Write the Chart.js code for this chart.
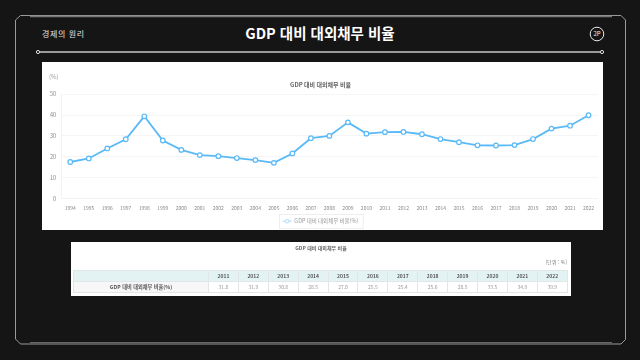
<!DOCTYPE html>
<html lang="ko">
<head>
<meta charset="utf-8">
<script src="https://cdn.jsdelivr.net/npm/chart.js@4"></script>
<style>
  html, body { margin: 0; padding: 0; background: #151515; }
  body { width: 640px; height: 360px; position: relative; overflow: hidden; font-family: "Noto Sans CJK KR", sans-serif; }
  .frame { position: absolute; left: 0; top: 0; }
  .section { position: absolute; left: 42px; top: 28px; font-size: 8px; line-height: 11px; letter-spacing: .6px; color: #e4e4e4; }
  .heading { position: absolute; left: 120px; width: 400px; top: 22px; text-align: center; font-size: 14.5px; line-height: 21px; font-weight: 700; color: #fff; }
  .page { position: absolute; left: 590px; top: 27px; width: 14px; height: 14px; line-height: 14px; text-align: center; font-size: 6px; color: #eee; }
  .panel { position: absolute; left: 42px; top: 62px; width: 561px; height: 168px; background: #fff; }
  .panel canvas { filter: blur(.5px); }
  .tablePanel { position: absolute; left: 71px; top: 242px; width: 500px; height: 54px; background: #fff; }
  .tableInner { position: absolute; inset: 0; filter: blur(.6px); }
  .tableTitle { position: absolute; left: 0; width: 500px; top: 2px; text-align: center; font-size: 5px; line-height: 8px; font-weight: 700; color: #666; }
  .unit { position: absolute; right: 4px; top: 16px; font-size: 5px; line-height: 8px; color: #777; }
  table { position: absolute; left: 2px; top: 28px; border-collapse: collapse; table-layout: fixed; width: 494.5px; font-size: 5px; }
  th, td { border: 1px solid #e2e6e6; padding: 0; height: 10px; line-height: 8px; text-align: center; }
  th { background: #e3f3f4; color: #555; font-weight: 700; }
  td { color: #999; }
  td.rowHead { background: #f7f7f7; color: #555; font-weight: 700; font-size: 5.2px; }
</style>
</head>
<body>
<svg class="frame" width="640" height="360" fill="none">
  <path d="M20.5 15.5H621L625.5 20V339.5L621 344H20.5L15.5 339V20Z" stroke="#9a9a9a" stroke-width="1"/>
  <path d="M30 16.5H612" stroke="#777" stroke-width="1.5"/>
  <path d="M30 342.5H612" stroke="#666" stroke-width="1"/>
  <path d="M38 52H602" stroke="#c8c8c8" stroke-width="1.4"/>
  <circle cx="38" cy="52" r="1.6" fill="#151515" stroke="#ddd"/>
  <circle cx="602" cy="52" r="1.6" fill="#151515" stroke="#ddd"/>
  <circle cx="597" cy="34" r="6.8" stroke="#e8e8e8"/>
</svg>
<div class="section">경제의 원리</div>
<div class="heading">GDP 대비 대외채무 비율</div>
<div class="page">2P</div>

<div class="panel"><canvas id="myChart" width="561" height="168"></canvas></div>

<div class="tablePanel">
  <div class="tableInner">
    <div class="tableTitle" id="tableTitle"></div>
    <div class="unit">[단위 : %]</div>
    <table id="ratioTable"></table>
  </div>
</div>

<script>
const chartTitle = "GDP 대비 대외채무 비율";
const seriesName = "GDP 대비 대외채무 비율(%)";
const years = ["1994","1995","1996","1997","1998","1999","2000","2001","2002","2003","2004","2005","2006","2007","2008","2009","2010","2011","2012","2013","2014","2015","2016","2017","2018","2019","2020","2021","2022"];
const ratios = [17.5,19.2,24.0,28.4,39.4,27.8,23.3,20.8,20.3,19.4,18.4,17.1,21.6,28.9,30.0,36.5,31.1,31.8,31.9,30.8,28.5,27.0,25.5,25.4,25.6,28.5,33.5,34.9,39.9];
const tableYears = ["2011","2012","2013","2014","2015","2016","2017","2018","2019","2020","2021","2022"];
const tableValues = ["31.8","31.9","30.8","28.5","27.0","25.5","25.4","25.6","28.5","33.5","34.9","39.9"];

// table under the chart
document.getElementById("tableTitle").textContent = chartTitle;
let rows = '<colgroup><col style="width:135px">' + tableYears.map(() => '<col style="width:29.9px">').join("") + "</colgroup>";
rows += "<tr><th></th>" + tableYears.map(y => "<th>" + y + "</th>").join("") + "</tr>";
rows += '<tr><td class="rowHead">' + seriesName + "</td>" + tableValues.map(v => "<td>" + v + "</td>").join("") + "</tr>";
document.getElementById("ratioTable").innerHTML = rows;

// "(%)" label, the box around the legend and its marker
const extras = {
  id: "extras",
  afterDraw(chart) {
    const c = chart.ctx, lg = chart.legend, hit = lg.legendHitBoxes[0];
    const midY = hit.top + hit.height / 2;
    c.save();
    c.fillStyle = "#999";
    c.font = "6px 'Noto Sans CJK KR'";
    c.fillText("(%)", 7, 15);
    c.strokeStyle = "#eeeeee";
    c.strokeRect(Math.round(hit.left - 4) + 0.5, Math.round(midY - 7) + 0.5, hit.width + 8, 14);
    c.strokeStyle = "#a9dcfb";
    c.lineWidth = 1;
    c.beginPath();
    c.moveTo(hit.left, midY);
    c.lineTo(hit.left + 9, midY);
    c.stroke();
    c.beginPath();
    c.arc(hit.left + 4.5, midY, 1.8, 0, Math.PI * 2);
    c.fillStyle = "#fff";
    c.fill();
    c.stroke();
    c.restore();
  }
};

new Chart(document.getElementById("myChart"), {
  type: "line",
  data: {
    labels: years,
    datasets: [{
      label: seriesName,
      data: ratios,
      borderColor: "#5ab9f7",
      borderWidth: 1.8,
      backgroundColor: "#ffffff",
      pointBackgroundColor: "#ffffff",
      pointBorderColor: "#5ab9f7",
      pointBorderWidth: 1.2,
      pointRadius: 2.3,
      tension: 0
    }]
  },
  options: {
    responsive: false,
    animation: false,
    layout: { padding: { left: 0, right: 4, top: 0, bottom: -4 } },
    plugins: {
      title: {
        display: true,
        text: chartTitle,
        color: "#666",
        font: { family: "Noto Sans CJK KR", size: 6, weight: "bold" },
        padding: { top: 19, bottom: 6 }
      },
      legend: {
        position: "bottom",
        labels: {
          color: "#999",
          font: { family: "Noto Sans CJK KR", size: 5.5 },
          boxWidth: 9,
          boxHeight: 0,
          usePointStyle: false,
          padding: 4,
          generateLabels(chart) {
            return [{ text: seriesName, fillStyle: "transparent", strokeStyle: "transparent", lineWidth: 0, fontColor: "#999", datasetIndex: 0 }];
          }
        }
      },
      tooltip: { enabled: false }
    },
    scales: {
      x: {
        offset: true,
        afterFit(scale) { scale.height = 16; },
        grid: { display: false, tickLength: 4 },
        border: { color: "#f3f3f3" },
        ticks: { autoSkip: false, maxRotation: 0, color: "#888", padding: 2.5, font: { family: "Noto Sans CJK KR", size: 5 } },
      },
      y: {
        min: 0,
        max: 50,
        afterFit(scale) { scale.width = 19; },
        grid: { color: "#f5f5f5", drawTicks: false },
        border: { color: "#f3f3f3" },
        ticks: { stepSize: 10, color: "#888", padding: 5, font: { family: "Noto Sans CJK KR", size: 5.5 } }
      }
    }
  },
  plugins: [extras]
});
</script>
</body>
</html>
